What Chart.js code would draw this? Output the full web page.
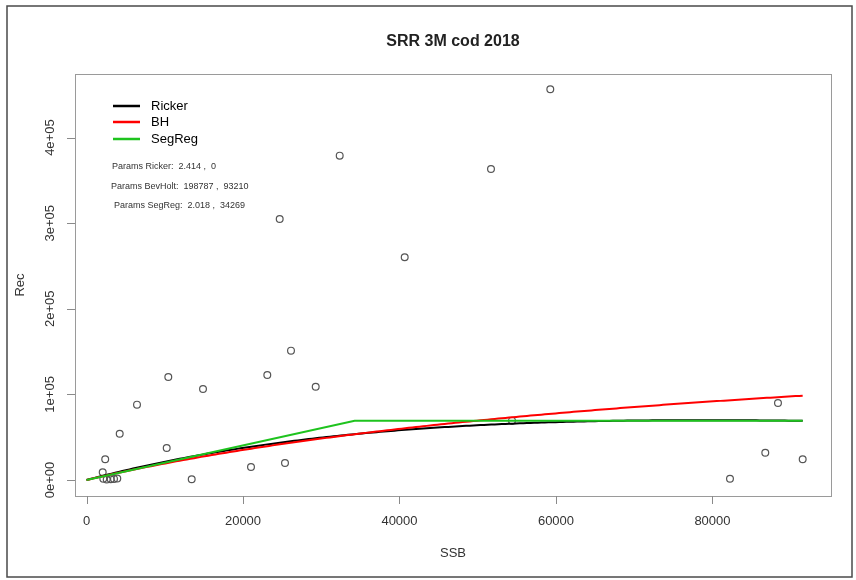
<!DOCTYPE html>
<html>
<head>
<meta charset="utf-8">
<script src="https://cdn.jsdelivr.net/npm/chart.js@4/dist/chart.umd.min.js"></script>
<style>
  html, body { margin: 0; padding: 0; background: #fff; }
  canvas { display: block; }
</style>
</head>
<body>
<canvas id="c" width="856" height="580"></canvas>
<script>
// Stock (SSB) and recruitment (Rec) observations
const ssb = [59274, 32359, 51695, 24691, 40666, 26135, 10454, 23106, 14889, 29292,
             6454, 4243, 10250, 2390, 2070, 21023, 25368, 13445, 2147, 2582,
             3093, 3514, 3936, 54379, 88374, 86751, 91530, 82239];
const rec = [456400, 378900, 363300, 304900, 260200, 151100, 120300, 122700, 106300, 109000,
             88000, 54100, 37400, 24200, 9000, 15200, 19900, 800, 1500, 500,
             900, 1300, 1800, 69300, 90000, 31900, 24200, 1500];

// Fitted stock-recruitment model parameters
const rickerParams = [2.414, 1.27e-5];   // R = a * S * exp(-b * S)
const bevHoltParams = [198787, 93210];   // R = a * S / (b + S)
const segRegParams = [2.018, 34269];     // R = a * min(S, b)

// Axis ticks
const xTicks = [0, 20000, 40000, 60000, 80000];
const yTicks = [0, 100000, 200000, 300000, 400000];
const yTickLabels = ['0e+00', '1e+05', '2e+05', '3e+05', '4e+05'];

const seriesNames = ['Ricker', 'BH', 'SegReg'];
const chartTitle = 'SRR 3M cod 2018';

const colors = { Ricker: '#000000', BH: '#ff0000', SegReg: '#1ec31e' };
const FONT = '"Liberation Sans", Arial, Helvetica, sans-serif';

// Model curves evaluated from 0 to the largest observed SSB
const sMax = Math.max(...ssb);
const steps = 200;
const sGrid = [];
for (let i = 0; i <= steps; i++) sGrid.push(sMax * i / steps);

const rickerCurve = sGrid.map(s => ({ x: s, y: rickerParams[0] * s * Math.exp(-rickerParams[1] * s) }));
const bhCurve = sGrid.map(s => ({ x: s, y: bevHoltParams[0] * s / (bevHoltParams[1] + s) }));
const segCurve = [
  { x: 0, y: 0 },
  { x: segRegParams[1], y: segRegParams[0] * segRegParams[1] },
  { x: sMax, y: segRegParams[0] * Math.min(sMax, segRegParams[1]) }
];

const obs = ssb.map((s, i) => ({ x: s, y: rec[i] }));

const r3 = v => String(Math.round(v * 1000) / 1000);
const paramLines = [
  { text: 'Params Ricker:  ' + r3(rickerParams[0]) + ' ,  ' + r3(rickerParams[1]), x: 112, y: 167 },
  { text: 'Params BevHolt:  ' + r3(bevHoltParams[0]) + ' ,  ' + r3(bevHoltParams[1]), x: 111, y: 187 },
  { text: 'Params SegReg:  ' + r3(segRegParams[0]) + ' ,  ' + r3(segRegParams[1]), x: 114, y: 206 }
];

// Frame, axes, titles and legend drawn around the plotting region
const decor = {
  id: 'decor',
  afterDraw(chart) {
    const { ctx, chartArea: a, scales: { x, y } } = chart;
    ctx.save();

    // outer figure border
    ctx.strokeStyle = '#4a4a4a';
    ctx.lineWidth = 1.5;
    ctx.strokeRect(7, 6, 845, 571);

    // plot box
    ctx.strokeStyle = '#9a9a9a';
    ctx.lineWidth = 1;
    ctx.strokeRect(Math.round(a.left) + 0.5, Math.round(a.top) + 0.5,
                   Math.round(a.right - a.left), Math.round(a.bottom - a.top));

    // tick marks
    ctx.strokeStyle = '#8a8a8a';
    ctx.beginPath();
    xTicks.forEach(v => {
      const px = Math.round(x.getPixelForValue(v)) + 0.5;
      ctx.moveTo(px, a.bottom); ctx.lineTo(px, a.bottom + 8);
    });
    yTicks.forEach(v => {
      const py = Math.round(y.getPixelForValue(v)) + 0.5;
      ctx.moveTo(a.left, py); ctx.lineTo(a.left - 8, py);
    });
    ctx.stroke();

    // tick labels
    ctx.fillStyle = '#333333';
    ctx.font = '13px ' + FONT;
    ctx.textAlign = 'center';
    ctx.textBaseline = 'middle';
    xTicks.forEach(v => ctx.fillText(String(v), x.getPixelForValue(v), 521));
    yTicks.forEach((v, i) => {
      ctx.save();
      ctx.translate(50, y.getPixelForValue(v));
      ctx.rotate(-Math.PI / 2);
      ctx.fillText(yTickLabels[i], 0, 0);
      ctx.restore();
    });

    // axis titles
    ctx.fillText('SSB', (a.left + a.right) / 2, 553);
    ctx.save();
    ctx.translate(20, (a.top + a.bottom) / 2);
    ctx.rotate(-Math.PI / 2);
    ctx.fillText('Rec', 0, 0);
    ctx.restore();

    // main title
    ctx.fillStyle = '#222222';
    ctx.font = 'bold 16px ' + FONT;
    ctx.fillText(chartTitle, (a.left + a.right) / 2, 42);

    // legend
    const legY = [106, 122, 139];
    seriesNames.forEach((name, i) => {
      ctx.strokeStyle = colors[name];
      ctx.lineWidth = 2.5;
      ctx.beginPath();
      ctx.moveTo(113, legY[i]); ctx.lineTo(140, legY[i]);
      ctx.stroke();
      ctx.fillStyle = '#000000';
      ctx.font = '13px ' + FONT;
      ctx.textAlign = 'left';
      ctx.fillText(name, 151, legY[i]);
    });

    // parameter notes
    ctx.fillStyle = '#333333';
    ctx.font = '9px ' + FONT;
    ctx.textAlign = 'left';
    paramLines.forEach(p => ctx.fillText(p.text, p.x, p.y));

    ctx.restore();
  }
};

const lineDs = (label, data, order) => ({
  label, data, order,
  showLine: true,
  borderColor: colors[label],
  borderWidth: 2,
  pointRadius: 0,
  pointHoverRadius: 0,
  tension: 0,
  fill: false
});

new Chart(document.getElementById('c'), {
  type: 'scatter',
  data: {
    datasets: [
      lineDs('SegReg', segCurve, 0),
      lineDs('BH', bhCurve, 1),
      lineDs('Ricker', rickerCurve, 2),
      {
        label: 'obs',
        data: obs,
        order: 3,
        showLine: false,
        pointStyle: 'circle',
        pointRadius: 3.4,
        pointBorderWidth: 1.2,
        pointBackgroundColor: 'rgba(0,0,0,0)',
        pointBorderColor: '#555555'
      }
    ]
  },
  options: {
    responsive: false,
    animation: false,
    devicePixelRatio: 1,
    layout: { padding: { left: 75, top: 74, right: 25, bottom: 84 } },
    scales: {
      x: { type: 'linear', min: -1470, max: 95150, display: false },
      y: { type: 'linear', min: -18700, max: 474300, display: false }
    },
    plugins: {
      legend: { display: false },
      tooltip: { enabled: false },
      title: { display: false }
    }
  },
  plugins: [decor]
});
</script>
</body>
</html>
